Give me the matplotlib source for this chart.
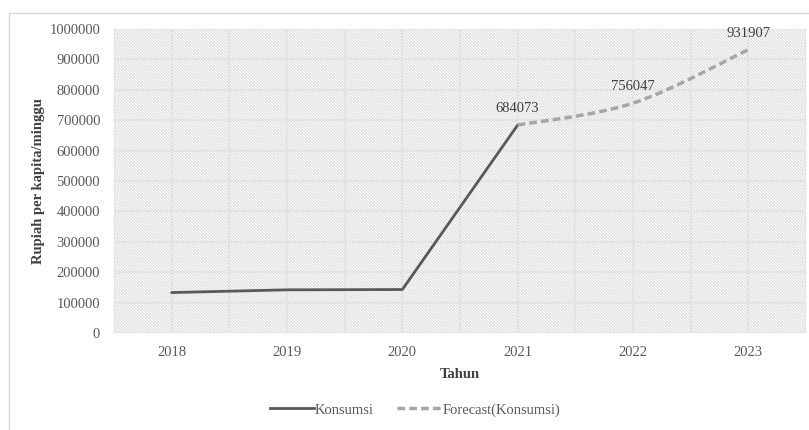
import numpy as np
import matplotlib
matplotlib.use("Agg")
import matplotlib.pyplot as plt
from matplotlib.patches import Rectangle
from matplotlib.path import Path
from matplotlib.patches import PathPatch
from matplotlib.lines import Line2D

# data
years = ['2018', '2019', '2020', '2021', '2022', '2023']
konsumsi = [133000, 142000, 143000, 684073]
forecast = [684073, 756047, 931907]
forecast_start = 3  # index of 2021

plt.rcParams['font.family'] = ['Liberation Serif', 'DejaVu Serif']
plt.rcParams['hatch.linewidth'] = 0.8

TICK_C = '#595959'
GRID_C = '#e4e4e4'
fig = plt.figure(figsize=(8.09, 4.30), dpi=100)
ax = fig.add_axes([114 / 809, 97 / 430, 692 / 809, 304 / 430])

# outer chart border (only top/left visible in the crop)
fig.patches.append(Rectangle((9 / 809, -0.1), 1.2, 1.1 - 13 / 430,
                             transform=fig.transFigure, fill=False,
                             edgecolor='#d9d9d9', lw=1.0))

# hatched plot background
ax.patch.set_visible(False)
ax.add_patch(Rectangle((0, 0), 1, 1, transform=ax.transAxes, facecolor='white',
                       edgecolor='#dcdcdc', hatch='\\' * 11, lw=0, zorder=0))

x = np.arange(len(years))
ax.plot(x[:len(konsumsi)], konsumsi, color='#595959', lw=2.0,
        solid_capstyle='round', zorder=3)


def smooth_path(xs, ys):
    # Excel-style smoothed line: Catmull-Rom segments as cubic beziers
    xs = np.asarray(xs, float)
    ys = np.asarray(ys, float)
    n = len(xs)
    verts = [(xs[0], ys[0])]
    codes = [Path.MOVETO]
    for i in range(n - 1):
        p0 = (xs[max(i - 1, 0)], ys[max(i - 1, 0)])
        p1 = (xs[i], ys[i])
        p2 = (xs[i + 1], ys[i + 1])
        p3 = (xs[min(i + 2, n - 1)], ys[min(i + 2, n - 1)])
        c1 = (p1[0] + (p2[0] - p0[0]) / 6, p1[1] + (p2[1] - p0[1]) / 6)
        c2 = (p2[0] - (p3[0] - p1[0]) / 6, p2[1] - (p3[1] - p1[1]) / 6)
        verts += [c1, c2, p2]
        codes += [Path.CURVE4] * 3
    return Path(verts, codes)


fx = x[forecast_start:forecast_start + len(forecast)]
ax.add_patch(PathPatch(smooth_path(fx, forecast), fill=False, edgecolor='#a6a6a6',
                       lw=2.5, linestyle=(0, (2.2, 1.2)), zorder=3))

# data labels
for xi, v in zip(fx, forecast):
    ax.annotate(f'{v}', (xi, v), xytext=(0, 7), textcoords='offset points',
                ha='center', va='bottom', fontsize=10.5, color='#404040')

ax.set_xlim(-0.5, len(years) - 0.5)
ax.set_ylim(0, 1000000)
yt = np.arange(0, 1000001, 100000)
ax.set_yticks(yt)
ax.set_yticklabels([f'{int(t)}' for t in yt])
ax.set_xticks(x)
ax.set_xticklabels(years)
# vertical gridlines at category centres and boundaries
for gx in np.arange(-0.5, len(years), 0.5):
    ax.axvline(gx, color=GRID_C, lw=1.5, zorder=1)
ax.grid(True, which='major', axis='y', color=GRID_C, lw=1.5, zorder=1)
ax.set_axisbelow(True)
ax.tick_params(which='both', length=0, labelsize=10.5, labelcolor=TICK_C)
ax.tick_params(axis='y', pad=10)
ax.tick_params(axis='x', pad=9)
for s in ax.spines.values():
    s.set_visible(False)

ax.set_xlabel('Tahun', fontsize=10.5, fontweight='bold', color='#404040', labelpad=7)
ax.set_ylabel('Rupiah per kapita/minggu', fontsize=10.5, fontweight='bold',
              color='#404040', labelpad=3)

handles = [Line2D([], [], color='#595959', lw=2.0),
           Line2D([], [], color='#a6a6a6', lw=2.5, linestyle=(0, (2.2, 1.2)))]
fig.legend(handles, ['Konsumsi', 'Forecast(Konsumsi)'], loc='center',
           bbox_to_anchor=(415 / 809, 1 - 410 / 430), ncol=2, frameon=False,
           fontsize=10.5, labelcolor=TICK_C, handlelength=3.0, handletextpad=0.1,
           columnspacing=1.6)

fig.savefig('out.png', dpi=100)
